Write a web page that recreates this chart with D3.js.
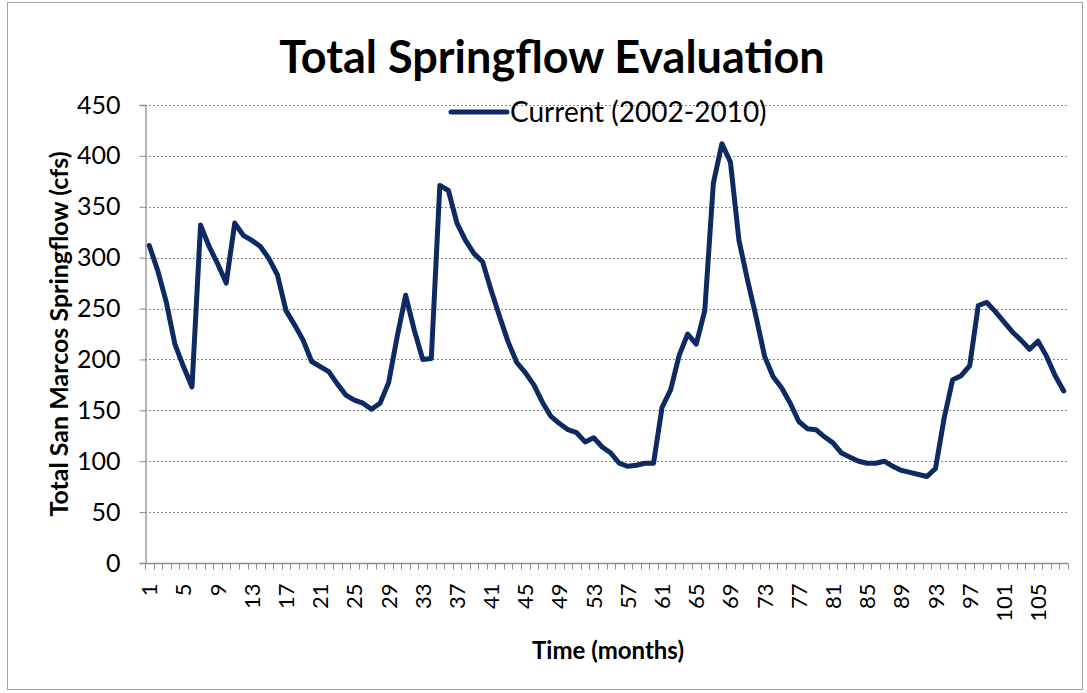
<!DOCTYPE html>
<html>
<head>
<meta charset="utf-8">
<script src="https://cdn.jsdelivr.net/npm/d3@7"></script>
<style>
  html, body { margin: 0; padding: 0; background: #fff; }
  svg { display: block; }
  text { font-family: Lato, "Open Sans", sans-serif; fill: #000; }
</style>
</head>
<body>
<svg id="chart" width="1087" height="693"></svg>
<script>
// Monthly total San Marcos springflow (cfs), 2002-2010
const months = d3.range(1, 109);
const springflow = [
  312, 287, 256, 215, 193, 173, 332, 311, 294, 275,
  334, 322, 317, 311, 299, 283, 248, 234, 219, 198,
  193, 188, 176, 165, 160, 157, 151, 157, 177, 222,
  263, 229, 200, 201, 371, 366, 334, 317, 304, 296,
  268, 242, 217, 197, 187, 175, 158, 144, 137, 131,
  128, 119, 123, 114, 108, 98, 95, 96, 98, 98,
  153, 170, 204, 225, 215, 248, 373, 412, 394, 317,
  278, 242, 203, 183, 172, 157, 139, 132, 131, 124,
  118, 108, 104, 100, 98, 98, 100, 95, 91, 89,
  87, 85, 93, 142, 180, 184, 194, 253, 256, 247,
  237, 227, 219, 210, 218, 203, 184, 169
];
const yTicks = [0, 50, 100, 150, 200, 250, 300, 350, 400, 450];
const xLabelMonths = months.filter(m => (m - 1) % 4 === 0);

const title = "Total Springflow Evaluation";
const seriesName = "Current (2002-2010)";
const xTitle = "Time (months)";
const yTitle = "Total San Marcos Springflow (cfs)";

const lineColor = "#0d2a62";
const axisColor = "#8c8c8c";

const svg = d3.select("#chart");
const W = 1087, H = 693;
const plot = { left: 145, right: 1068, top: 105, bottom: 563 };

// outer chart frame
svg.append("rect")
  .attr("x", 7.5).attr("y", 2.5)
  .attr("width", W - 12).attr("height", H - 6)
  .attr("fill", "#fff")
  .attr("stroke", "#a0a0a0").attr("stroke-width", 1);

const x = d3.scaleBand()
  .domain(months)
  .range([plot.left, plot.right])
  .paddingInner(0).paddingOuter(0);

const y = d3.scaleLinear()
  .domain([0, 450])
  .range([plot.bottom, plot.top]);

// horizontal dotted gridlines
svg.append("g")
  .selectAll("line")
  .data(yTicks.filter(v => v > 0))
  .join("line")
  .attr("x1", plot.left).attr("x2", plot.right)
  .attr("y1", d => Math.round(y(d)) + 0.5)
  .attr("y2", d => Math.round(y(d)) + 0.5)
  .attr("stroke", "#8a8a8a")
  .attr("stroke-width", 1)
  .attr("stroke-dasharray", "2,2");

// y axis
const yAxis = svg.append("g")
  .attr("transform", `translate(${plot.left + 0.5},0)`)
  .call(d3.axisLeft(y).tickValues(yTicks).tickSize(6).tickPadding(19));
yAxis.select(".domain").attr("stroke", axisColor).attr("stroke-width", 1.3);
yAxis.selectAll(".tick line").attr("stroke", axisColor);
yAxis.selectAll(".tick text")
  .style("font-size", "25px")
  .style("font-family", "Lato, sans-serif")
  .attr("fill", "#000");

// x axis: ticks at category boundaries, labels every fourth month
const xAxisG = svg.append("g")
  .attr("transform", `translate(0,${plot.bottom + 0.5})`);
xAxisG.append("line")
  .attr("x1", plot.left).attr("x2", plot.right)
  .attr("stroke", axisColor).attr("stroke-width", 1.3);
const boundaries = months.map(m => x(m)).concat([x(months[months.length - 1]) + x.bandwidth()]);
xAxisG.selectAll("line.tick")
  .data(boundaries)
  .join("line")
  .attr("class", "tick")
  .attr("x1", d => Math.round(d) + 0.5).attr("x2", d => Math.round(d) + 0.5)
  .attr("y1", 0).attr("y2", 6)
  .attr("stroke", axisColor);
xAxisG.selectAll("text")
  .data(xLabelMonths)
  .join("text")
  .attr("transform", d => `translate(${x(d) + x.bandwidth() / 2 + 8},${20}) rotate(-90)`)
  .attr("text-anchor", "end")
  .style("font-size", "22px")
  .text(d => d);

// springflow line
const line = d3.line()
  .x((d, i) => x(months[i]) + x.bandwidth() / 2)
  .y(d => y(d));
svg.append("path")
  .datum(springflow)
  .attr("d", line)
  .attr("fill", "none")
  .attr("stroke", lineColor)
  .attr("stroke-width", 5)
  .attr("stroke-linejoin", "round")
  .attr("stroke-linecap", "round");

// title
svg.append("text")
  .attr("x", 552).attr("y", 73)
  .attr("text-anchor", "middle")
  .style("font-size", "45px")
  .style("font-weight", "bold")
  .text(title);

// legend
svg.append("line")
  .attr("x1", 451).attr("x2", 507)
  .attr("y1", 112).attr("y2", 112)
  .attr("stroke", lineColor).attr("stroke-width", 5)
  .attr("stroke-linecap", "round");
svg.append("text")
  .attr("x", 510).attr("y", 122)
  .style("font-size", "28px")
  .text(seriesName);

// axis titles
svg.append("text")
  .attr("x", 608).attr("y", 659)
  .attr("text-anchor", "middle")
  .style("font-size", "24px")
  .style("font-weight", "bold")
  .text(xTitle);

svg.append("text")
  .attr("transform", "translate(68,334) rotate(-90)")
  .attr("text-anchor", "middle")
  .style("font-size", "25px")
  .style("font-weight", "bold")
  .text(yTitle);
</script>
</body>
</html>
